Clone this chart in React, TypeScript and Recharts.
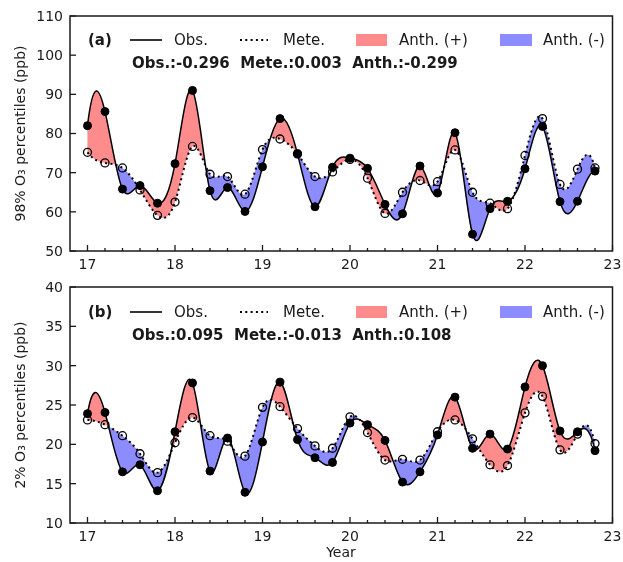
import React from "react";
import { ComposedChart, Area, Line, XAxis, YAxis, CartesianGrid, ReferenceArea } from "recharts";

const years = [17, 17.2, 17.4, 17.6, 17.8, 18, 18.2, 18.4, 18.6, 18.8, 19, 19.2, 19.4, 19.6, 19.8,
  20, 20.2, 20.4, 20.6, 20.8, 21, 21.2, 21.4, 21.6, 21.8, 22, 22.2, 22.4, 22.6, 22.8];
const xTicks = [17, 17.2, 17.4, 17.6, 17.8, 18, 18.2, 18.4, 18.6, 18.8, 19, 19.2, 19.4, 19.6, 19.8,
  20, 20.2, 20.4, 20.6, 20.8, 21, 21.2, 21.4, 21.6, 21.8, 22, 22.2, 22.4, 22.6, 22.8, 23];

// (a) 98th percentile
const obsHigh = [82.0, 85.6, 65.8, 66.7, 62.2, 72.3, 91.0, 65.4, 66.2, 60.1, 71.5, 83.8, 74.8, 61.3, 71.4,
  73.7, 71.1, 61.9, 59.5, 71.7, 64.8, 80.2, 54.3, 60.8, 62.7, 71.0, 81.8, 62.6, 62.7, 70.4];
const meteHigh = [75.2, 72.5, 71.2, 65.6, 59.1, 62.5, 76.7, 69.6, 69.0, 64.5, 75.9, 78.6, 74.8, 69.0, 70.2,
  73.4, 68.6, 59.6, 65.0, 68.0, 67.7, 75.8, 65.0, 62.2, 60.8, 74.4, 83.8, 67.0, 70.9, 71.2];
const yTicksHigh = [50, 60, 70, 80, 90, 100, 110];
const statsHigh = "Obs.:-0.296  Mete.:0.003  Anth.:-0.299";

// (b) 2nd percentile
const obsLow = [23.9, 24.05, 16.5, 17.4, 14.1, 21.6, 27.8, 16.6, 20.8, 13.9, 20.3, 27.9, 20.6, 18.3, 17.7,
  22.7, 22.5, 20.5, 15.2, 16.5, 21.2, 26.0, 19.5, 21.3, 19.4, 27.3, 30.0, 21.7, 21.6, 19.2];
const meteLow = [23.1, 22.5, 21.1, 18.8, 16.4, 20.2, 23.4, 21.1, 20.4, 18.5, 24.7, 24.8, 22.0, 19.8, 19.5,
  23.5, 21.5, 18.0, 18.1, 18.0, 21.6, 23.1, 20.7, 17.4, 17.3, 24.0, 26.1, 19.3, 21.3, 20.1];
const yTicksLow = [10, 15, 20, 25, 30, 35, 40];
const statsLow = "Obs.:0.095  Mete.:-0.013  Anth.:0.108";

const FONT = "'DejaVu Sans', Verdana, sans-serif";
const INK = "#1a1a1a";
const X_GAP = 8;
const Y_GAP = 7;

const toRows = (obs: number[], mete: number[]) =>
  years.map((year, i) => ({ year, obs: obs[i], mete: mete[i], gap: [mete[i], obs[i]] }));

// cubic spline with not-a-knot ends (like scipy's default), as a d3-style curve factory
function splineM(p: number[]) {
  const n = p.length;
  const A = Array.from({ length: n }, () => new Array(n).fill(0));
  const r = new Array(n).fill(0);
  A[0][0] = 1; A[0][1] = -2; A[0][2] = 1;
  for (let i = 1; i < n - 1; i++) {
    A[i][i - 1] = 1; A[i][i] = 4; A[i][i + 1] = 1;
    r[i] = 6 * (p[i + 1] - 2 * p[i] + p[i - 1]);
  }
  A[n - 1][n - 3] = 1; A[n - 1][n - 2] = -2; A[n - 1][n - 1] = 1;
  for (let c = 0; c < n; c++) {
    let piv = c;
    for (let k = c + 1; k < n; k++) if (Math.abs(A[k][c]) > Math.abs(A[piv][c])) piv = k;
    [A[c], A[piv]] = [A[piv], A[c]];
    [r[c], r[piv]] = [r[piv], r[c]];
    for (let k = c + 1; k < n; k++) {
      const f = A[k][c] / A[c][c];
      if (!f) continue;
      for (let j = c; j < n; j++) A[k][j] -= f * A[c][j];
      r[k] -= f * r[c];
    }
  }
  const M = new Array(n).fill(0);
  for (let i = n - 1; i >= 0; i--) {
    let s = r[i];
    for (let j = i + 1; j < n; j++) s -= A[i][j] * M[j];
    M[i] = s / A[i][i];
  }
  return M;
}

function controls(p: number[]) {
  const M = splineM(p);
  const out: number[][] = [];
  for (let i = 0; i < p.length - 1; i++) {
    const dp = p[i + 1] - p[i];
    const d0 = dp - (2 * M[i] + M[i + 1]) / 6;
    const d1 = dp + (M[i] + 2 * M[i + 1]) / 6;
    out.push([p[i] + d0 / 3, p[i + 1] - d1 / 3]);
  }
  return out;
}

function notAKnot(context: any) {
  let xs: number[] = [];
  let ys: number[] = [];
  let line = NaN;
  return {
    areaStart() { line = 0; },
    areaEnd() { line = NaN; },
    lineStart() { xs = []; ys = []; },
    point(x: number, y: number) { xs.push(+x); ys.push(+y); },
    lineEnd() {
      const n = xs.length;
      if (n) {
        if (line) context.lineTo(xs[0], ys[0]);
        else context.moveTo(xs[0], ys[0]);
        if (n < 4) {
          for (let i = 1; i < n; i++) context.lineTo(xs[i], ys[i]);
        } else {
          const cx = controls(xs);
          const cy = controls(ys);
          for (let i = 0; i < n - 1; i++) {
            context.bezierCurveTo(cx[i][0], cy[i][0], cx[i][1], cy[i][1], xs[i + 1], ys[i + 1]);
          }
        }
      }
      if (line || (line !== 0 && n === 1)) context.closePath();
      line = 1 - line;
    },
  };
}

function XTick(props: any) {
  const { x, y, payload } = props;
  const axisY = y - X_GAP;
  const major = Number.isInteger(payload.value);
  return (
    <g>
      <line x1={x} x2={x} y1={axisY} y2={axisY - (major ? 6 : 3)} stroke={INK} strokeWidth={1.3} />
      {major && (
        <text x={x} y={y} dy="0.71em" textAnchor="middle" fontSize={14} fontFamily={FONT} fill={INK}>
          {payload.value}
        </text>
      )}
    </g>
  );
}

function YTick(props: any) {
  const { x, y, payload } = props;
  const axisX = x + Y_GAP;
  return (
    <g>
      <line x1={axisX} x2={axisX + 6} y1={y} y2={y} stroke={INK} strokeWidth={1.3} />
      <text x={x} y={y} dy="0.355em" textAnchor="end" fontSize={14} fontFamily={FONT} fill={INK}>
        {payload.value}
      </text>
    </g>
  );
}

function Panel({ obs, mete, yTicks, top, height, xAxisHeight }: any) {
  const rows = toRows(obs, mete);
  const lo = yTicks[0];
  const hi = yTicks[yTicks.length - 1];
  return (
    <div style={{ position: "absolute", left: 0, top }}>
      <ComposedChart width={623} height={height} data={rows} margin={{ top: 16, right: 10.5, bottom: 0, left: 30 }}>
        <CartesianGrid horizontal={false} vertical={false} fill="#fff" />
        <XAxis dataKey="year" type="number" domain={[16.8, 23]} ticks={xTicks} interval={0}
          tickSize={0} tickMargin={X_GAP} tick={XTick} axisLine={false} tickLine={false} height={xAxisHeight} />
        <YAxis type="number" domain={[lo, hi]} ticks={yTicks} interval={0}
          tickSize={0} tickMargin={Y_GAP} tick={YTick} axisLine={false} tickLine={false} width={40} />
        {/* grey between the curves, then screen red below obs and blue below mete:
            leaves pink where obs > mete, blue where mete > obs, white elsewhere */}
        <Area type={notAKnot as any} dataKey="gap" fill="#8c8c8c" fillOpacity={1} stroke="none"
          dot={false} activeDot={false} isAnimationActive={false} />
        <Area type={notAKnot as any} dataKey="obs" className="screen-blend" fill="#ff0000" fillOpacity={1} stroke="none"
          dot={false} activeDot={false} isAnimationActive={false} />
        <Area type={notAKnot as any} dataKey="mete" className="screen-blend" fill="#0000ff" fillOpacity={1} stroke="none"
          dot={false} activeDot={false} isAnimationActive={false} />
        <Line type={notAKnot as any} dataKey="mete" stroke="#000" strokeWidth={2} strokeDasharray="2 3.3"
          dot={{ r: 4, fill: "none", stroke: "#000", strokeWidth: 1.3, strokeDasharray: "none" }}
          activeDot={false} isAnimationActive={false} />
        <Line type={notAKnot as any} dataKey="obs" stroke="#000" strokeWidth={1.5}
          dot={{ r: 4, fill: "#000", stroke: "#000", strokeWidth: 1 }}
          activeDot={false} isAnimationActive={false} />
        <ReferenceArea x1={16.8} x2={23} y1={lo} y2={hi} fill="none" stroke={INK} strokeWidth={1.5} ifOverflow="visible" />
      </ComposedChart>
    </div>
  );
}

function PanelKey({ tag, stats, dy }: any) {
  const rowY = 40 + dy;
  const statY = 63 + dy;
  return (
    <g>
      <text x={88} y={rowY} dominantBaseline="central" fontSize={15} fontWeight="bold">{tag}</text>
      <line x1={130} x2={162} y1={rowY} y2={rowY} stroke="#000" strokeWidth={1.6} />
      <text x={174} y={rowY} dominantBaseline="central" fontSize={15}>Obs.</text>
      <line x1={240} x2={268} y1={rowY} y2={rowY} stroke="#000" strokeWidth={2} strokeDasharray="2 3.3" />
      <text x={283} y={rowY} dominantBaseline="central" fontSize={15}>Mete.</text>
      <rect x={356} y={rowY - 6} width={31} height={12} fill="rgb(255,140,140)" />
      <text x={399} y={rowY} dominantBaseline="central" fontSize={15}>Anth. (+)</text>
      <rect x={500} y={rowY - 6} width={32} height={12} fill="rgb(140,140,255)" />
      <text x={543} y={rowY} dominantBaseline="central" fontSize={15}>Anth. (-)</text>
      <text x={132} y={statY} dominantBaseline="central" fontSize={15} fontWeight="bold" style={{ whiteSpace: "pre" }}>
        {stats}
      </text>
    </g>
  );
}

export default function App() {
  return (
    <div style={{ position: "relative", width: 623, height: 562, background: "#fff" }}>
      <style>{`body{margin:0} .screen-blend{mix-blend-mode:screen}`}</style>
      <Panel obs={obsHigh} mete={meteHigh} yTicks={yTicksHigh} top={0} height={280} xAxisHeight={29} />
      <Panel obs={obsLow} mete={meteLow} yTicks={yTicksLow} top={271} height={291} xAxisHeight={39} />
      <svg width={623} height={562} fontFamily={FONT} fill={INK}
        style={{ position: "absolute", left: 0, top: 0, pointerEvents: "none" }}>
        <PanelKey tag="(a)" stats={statsHigh} dy={0} />
        <PanelKey tag="(b)" stats={statsLow} dy={272} />
        <text x={20} y={133.5} transform="rotate(-90 20 133.5)" textAnchor="middle" dominantBaseline="central" fontSize={14}>
          98% O₃ percentiles (ppb)
        </text>
        <text x={20} y={405} transform="rotate(-90 20 405)" textAnchor="middle" dominantBaseline="central" fontSize={14}>
          2% O₃ percentiles (ppb)
        </text>
        <text x={341} y={552} textAnchor="middle" dominantBaseline="central" fontSize={14}>Year</text>
      </svg>
    </div>
  );
}
